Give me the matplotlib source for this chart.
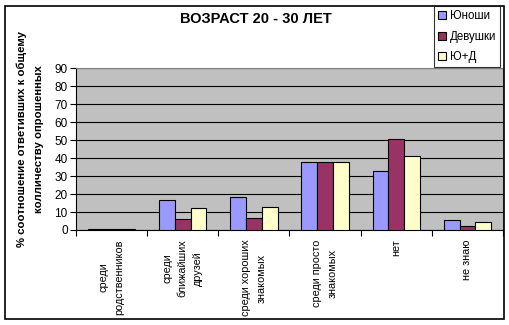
import numpy as np
from matplotlib import pyplot as plt
from matplotlib.patches import Rectangle

plt.rcParams['font.family'] = ['Liberation Sans', 'DejaVu Sans']

categories = ['среди\nродственников', 'среди\nближайших\nдрузей',
              'среди хороших\nзнакомых', 'среди просто\nзнакомых',
              'нет', 'не знаю']
series_names = ['Юноши', 'Девушки', 'Ю+Д']
boys = [0.4, 16.7, 18.1, 38.0, 32.6, 5.5]
girls = [0.4, 5.9, 6.5, 38.0, 50.4, 2.5]
both = [0.4, 12.0, 13.0, 38.0, 40.9, 4.4]
colors = ['#9999FF', '#993366', '#FFFFCC']

W, H = 510, 325
fig = plt.figure(figsize=(W / 100, H / 100), dpi=100)
fig.patch.set_facecolor('white')

# outer chart frame
fig.add_artist(Rectangle((5 / W, 1 - 319 / H), 499 / W, 313 / H,
                         transform=fig.transFigure, fill=False,
                         edgecolor='black', linewidth=1.2))

ax = fig.add_axes([76 / W, 1 - 230 / H, 427 / W, 162 / H])
ax.set_facecolor('#C0C0C0')

x = np.arange(len(categories))
bw = 1 / 4.5
for i, (vals, c, name) in enumerate(zip([boys, girls, both], colors, series_names)):
    ax.bar(x + (i - 1) * bw, vals, bw, color=c, edgecolor='black',
           linewidth=0.8, label=name, zorder=3)

ax.set_xlim(-0.5, len(categories) - 0.5)
ax.set_ylim(0, 90)
ax.set_yticks(range(0, 91, 10))
ax.yaxis.grid(True, color='black', linewidth=0.8, zorder=0)
ax.set_axisbelow(True)

ax.set_xticks(x)
ax.set_xticklabels(categories, rotation=90, va='top', ha='center',
                   multialignment='center', fontsize=7.8, linespacing=1.65)
ax.set_xticks(np.arange(-0.5, len(categories)), minor=True)
ax.tick_params(axis='x', which='major', length=0, pad=7)
ax.tick_params(axis='x', which='minor', length=4, width=0.8, direction='out')
ax.tick_params(axis='y', length=4, width=0.8, labelsize=8.5, pad=2)

for side in ['top', 'right']:
    ax.spines[side].set_color('#808080')
    ax.spines[side].set_linewidth(0.8)
for side in ['left', 'bottom']:
    ax.spines[side].set_color('black')
    ax.spines[side].set_linewidth(0.8)

fig.text(256 / W, 1 - 19 / H, 'ВОЗРАСТ 20 - 30 ЛЕТ', ha='center', va='center',
         fontsize=10.5, fontweight='bold')

fig.text(22 / W, 1 - 139 / H, '% соотношение ответивших к общему',
         rotation=90, ha='center', va='center', fontsize=8.2, fontweight='bold')
fig.text(39 / W, 1 - 139 / H, 'колличеству опрошенных',
         rotation=90, ha='center', va='center', fontsize=8.2, fontweight='bold')

leg = fig.legend(loc='upper right', bbox_to_anchor=(500 / W, 1 - 6 / H),
                 fontsize=8.3, frameon=True, fancybox=False, borderpad=0.35,
                 handlelength=0.7, handleheight=0.7, handletextpad=0.3,
                 labelspacing=0.75, borderaxespad=0)
leg.get_frame().set_edgecolor('black')
leg.get_frame().set_linewidth(0.8)

fig.savefig('out.png', dpi=100)
